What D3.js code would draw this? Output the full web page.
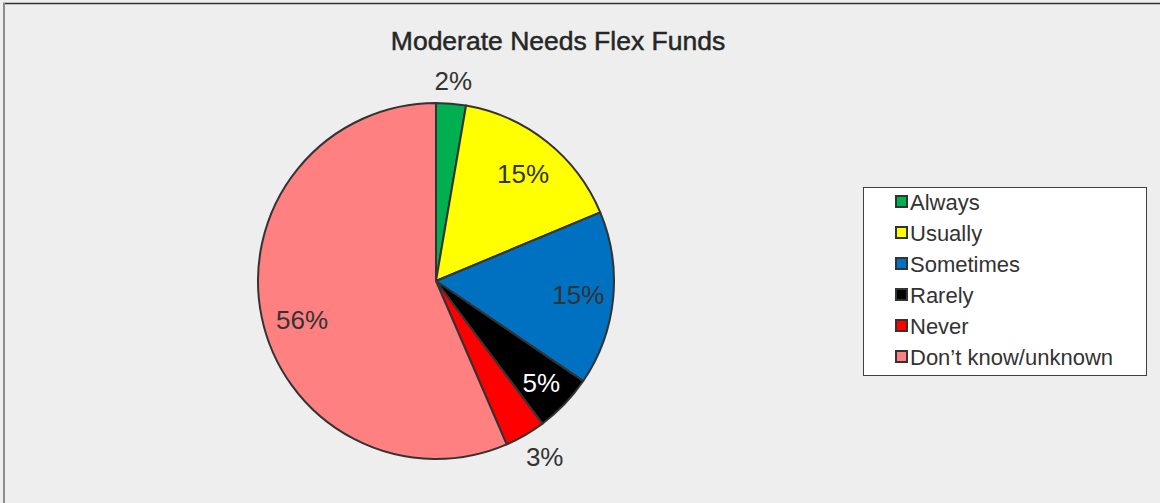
<!DOCTYPE html>
<html>
<head>
<meta charset="utf-8">
<script src="https://cdn.jsdelivr.net/npm/d3@7"></script>
<style>
  body { margin: 0; background: #eeeeee; }
  svg { display: block; font-family: "Liberation Sans", Arial, sans-serif; }
</style>
</head>
<body>
<div id="chart"></div>
<script>
// data
const categories = ["Always", "Usually", "Sometimes", "Rarely", "Never", "Don\u2019t know/unknown"];
const shares = [2.7, 16.0, 15.8, 5.3, 3.7, 56.5];
const labels = ["2%", "15%", "15%", "5%", "3%", "56%"];
const colors = ["#00b050", "#ffff00", "#0070c0", "#000000", "#ff0000", "#ff8080"];

const W = 1160, H = 503;
const cx = 436, cy = 281, R = 178;

const svg = d3.select("#chart").append("svg")
    .attr("width", W).attr("height", H);

svg.append("rect").attr("width", W).attr("height", H).attr("fill", "#eeeeee");
// frame: dark top edge, grey left edge
svg.append("line").attr("x1", 3).attr("x2", W).attr("y1", 3.5).attr("y2", 3.5)
    .attr("stroke", "#333").attr("stroke-width", 1.5);
svg.append("line").attr("x1", 4).attr("x2", 4).attr("y1", 3).attr("y2", H)
    .attr("stroke", "#8c8c8c").attr("stroke-width", 2);

svg.append("text")
    .attr("x", 558).attr("y", 50)
    .attr("text-anchor", "middle")
    .attr("font-size", "26.5px")
    .attr("fill", "#262626")
    .attr("stroke", "#262626")
    .attr("stroke-width", 0.5)
    .text("Moderate Needs Flex Funds");

const dataset = categories.map((c, i) => ({ name: c, value: shares[i], label: labels[i], color: colors[i] }));

const pie = d3.pie().value(d => d.value).sort(null);
const arc = d3.arc().innerRadius(0).outerRadius(R);
const arcs = pie(dataset);

const g = svg.append("g").attr("transform", `translate(${cx},${cy})`);

g.selectAll("path")
    .data(arcs)
    .enter().append("path")
    .attr("d", arc)
    .attr("fill", d => d.data.color)
    .attr("stroke", "#333")
    .attr("stroke-width", 2)
    .attr("stroke-linejoin", "round");

// small slices get their label outside the pie
const inner = d3.arc().innerRadius(143).outerRadius(143);
const outer = d3.arc().innerRadius(203).outerRadius(203);

g.selectAll(".lbl")
    .data(arcs)
    .enter().append("text")
    .attr("class", "lbl")
    .attr("transform", d => {
        const small = d.data.value < 5;
        const p = (small ? outer : inner).centroid(d);
        if (d.index === 5) { p[0] += 6; p[1] += 10; }
        if (d.index === 4) { p[0] += 7; }
        if (d.index === 0) { p[1] += 2; }
        if (d.index === 1) { p[0] -= 2; p[1] += 5; }
        if (d.index === 3) { p[0] += 2; p[1] += 3; }
        return `translate(${p[0]},${p[1]})`;
    })
    .attr("text-anchor", "middle")
    .attr("dominant-baseline", "central")
    .attr("font-size", "26px")
    .attr("fill", d => d.data.color === "#000000" ? "#ffffff" : "#333")
    .text(d => d.data.label);

// legend
const legend = svg.append("g").attr("transform", "translate(863,187)");
legend.append("rect")
    .attr("x", 0.5).attr("y", 0.5)
    .attr("width", 283).attr("height", 188)
    .attr("fill", "#ffffff")
    .attr("stroke", "#404040")
    .attr("stroke-width", 1);

const rows = legend.selectAll(".row")
    .data(dataset)
    .enter().append("g")
    .attr("class", "row")
    .attr("transform", (d, i) => `translate(0,${15 + i * 31})`);

rows.append("rect")
    .attr("x", 33).attr("y", -6)
    .attr("width", 11).attr("height", 11)
    .attr("fill", d => d.color)
    .attr("stroke", "#333")
    .attr("stroke-width", 2);

rows.append("text")
    .attr("x", 47).attr("y", 0)
    .attr("dominant-baseline", "central")
    .attr("font-size", "22px")
    .attr("fill", "#333")
    .text(d => d.name);
</script>
</body>
</html>
